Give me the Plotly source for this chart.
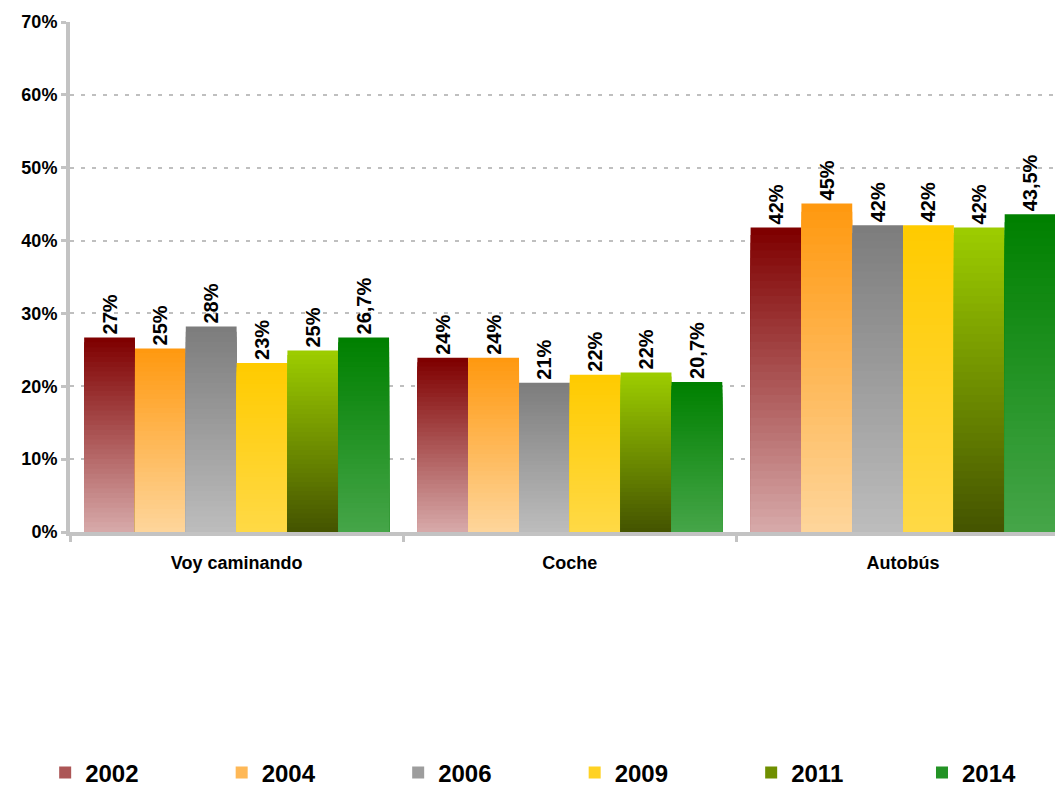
import plotly.graph_objects as go

categories = ["Voy caminando", "Coche", "Autobús"]
years = ["2002", "2004", "2006", "2009", "2011", "2014"]
values = {
    "2002": [26.7, 23.9, 41.8],
    "2004": [25.2, 23.9, 45.1],
    "2006": [28.2, 20.5, 42.1],
    "2009": [23.2, 21.6, 42.1],
    "2011": [24.9, 21.9, 41.8],
    "2014": [26.7, 20.6, 43.6],
}
labels = {
    "2002": ["27%", "24%", "42%"],
    "2004": ["25%", "24%", "45%"],
    "2006": ["28%", "21%", "42%"],
    "2009": ["23%", "22%", "42%"],
    "2011": ["25%", "22%", "42%"],
    "2014": ["26,7%", "20,7%", "43,5%"],
}
# gradient colours: (top, bottom)
grad = {
    "2002": ((0x7F, 0x00, 0x00), (0xD6, 0xA8, 0xA8)),
    "2004": ((0xFF, 0x99, 0x10), (0xFE, 0xD5, 0x9A)),
    "2006": ((0x7D, 0x7D, 0x7D), (0xBC, 0xBC, 0xBC)),
    "2009": ((0xFF, 0xCB, 0x00), (0xFF, 0xD9, 0x45)),
    "2011": ((0x9C, 0xCC, 0x00), (0x45, 0x55, 0x00)),
    "2014": ((0x00, 0x80, 0x00), (0x45, 0xA5, 0x48)),
}

FONT = "Arial, Liberation Sans, sans-serif"
N = 40
fig = go.Figure()
for yr in years:
    top, bot = grad[yr]
    vals = values[yr]
    for k in range(N):
        frac = (N - k) / N  # height fraction of this layer
        t = k / (N - 1)
        c = tuple(round(top[i] + (bot[i] - top[i]) * t) for i in range(3))
        col = "rgb(%d,%d,%d)" % c
        first = k == 0
        mid = k == N // 2
        fig.add_trace(go.Bar(
            x=categories,
            y=[v * frac for v in vals],
            base=[0, 0, 0],
            offsetgroup=yr,
            name=yr,
            legendgroup=yr,
            legend="legend2" if yr == years[-1] else "legend",
            showlegend=mid,
            marker=dict(color=col, line=dict(width=0)),
            text=labels[yr] if first else None,
            textposition="outside" if first else "none",
            textangle=-90,
            textfont=dict(family=FONT, size=20, color="black", weight="bold"),
            cliponaxis=False,
            constraintext="none",
            hoverinfo="skip",
        ))

legend_font = dict(family=FONT, size=24, color="black", weight="bold")
# the page body adds an 8px offset; the figure is made a bit taller than the
# window so the legend box never forces the plot area to shrink
fig.update_layout(
    width=1055, height=800,
    margin=dict(l=62, r=0, t=14, b=276),
    barmode="group",
    bargap=0.085,
    bargroupgap=0,
    plot_bgcolor="white",
    paper_bgcolor="white",
    font=dict(family=FONT, color="black"),
    showlegend=True,
    legend=dict(
        orientation="h", x=-0.025, xanchor="left", y=-0.4725, yanchor="middle",
        font=legend_font,
        entrywidth=131.5, entrywidthmode="pixels",
        traceorder="normal", itemsizing="constant",
        itemwidth=30, tracegroupgap=0,
    ),
    legend2=dict(
        orientation="h", x=0.858, xanchor="left", y=-0.4725, yanchor="middle",
        font=legend_font,
        traceorder="normal", itemsizing="constant",
        itemwidth=30, tracegroupgap=0,
    ),
)
fig.update_xaxes(
    range=[-0.5, 2.48],
    automargin=False,
    showline=True, linecolor="#C3C3C3", linewidth=4,
    ticks="outside", tickson="boundaries", ticklen=6, tickwidth=3, tickcolor="#C3C3C3",
    showgrid=False,
    ticklabelstandoff=11,
    tickfont=dict(family=FONT, size=18, color="black", weight="bold"),
    fixedrange=True,
)
fig.update_yaxes(
    range=[0, 70],
    automargin=False,
    tickvals=[0, 10, 20, 30, 40, 50, 60, 70],
    ticktext=["0%", "10%", "20%", "30%", "40%", "50%", "60%", "70%"],
    showline=True, linecolor="#C3C3C3", linewidth=4,
    ticks="outside", ticklen=5, tickwidth=3, tickcolor="#C3C3C3",
    showgrid=True, gridcolor="#BFBFBF", gridwidth=2, griddash="4px,7px",
    zeroline=False,
    tickfont=dict(family=FONT, size=18, color="black", weight="bold"),
    fixedrange=True,
)

fig.write_html("out.html")
